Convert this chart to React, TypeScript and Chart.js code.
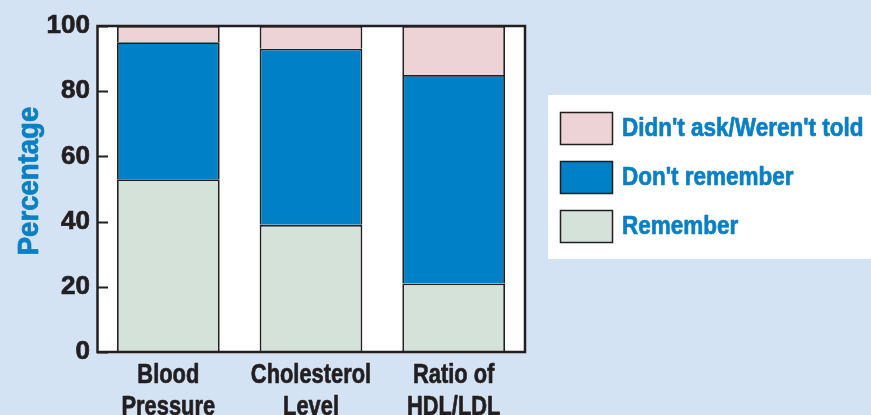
import React, { useEffect, useRef } from 'react';
import { Chart, registerables } from 'chart.js';

Chart.register(...registerables);

const categories = [['Blood', 'Pressure'], ['Cholesterol', 'Level'], ['Ratio of', 'HDL/LDL']];
const seriesLabels = ['Remember', "Don't remember", "Didn't ask/Weren't told"];
const remember = [53, 39, 21];
const dontRemember = [42, 54, 64];
const didntAsk = [5, 7, 15];
const yMin = 0;
const yMax = 100;
const yStep = 20;
const yTitle = 'Percentage';

const FONT = '"Liberation Sans", Arial, sans-serif';
const BLUE_TEXT = '#0a7fc4';
const INK = '#231f20';
const BG = '#d4e3f3';

function drawNarrow(ctx: CanvasRenderingContext2D, text: string, x: number, y: number, size: number, sx: number, align: CanvasTextAlign, color: string, rot = 0) {
  ctx.save();
  ctx.translate(x, y);
  if (rot) ctx.rotate(rot);
  ctx.scale(sx, 1);
  ctx.font = `bold ${size}px ${FONT}`;
  ctx.fillStyle = color;
  ctx.strokeStyle = color;
  ctx.lineWidth = 0.7;
  ctx.lineJoin = 'round';
  ctx.textAlign = align;
  ctx.textBaseline = 'alphabetic';
  ctx.fillText(text, 0, 0);
  ctx.strokeText(text, 0, 0);
  ctx.restore();
}

const plotPlugin = {
  id: 'plotDecor',
  beforeDatasetsDraw(chart: any) {
    const { ctx, chartArea: a } = chart;
    ctx.save();
    ctx.fillStyle = '#ffffff';
    ctx.fillRect(a.left, a.top, a.right - a.left, a.bottom - a.top);
    ctx.restore();
  },
  afterDatasetsDraw(chart: any) {
    const { ctx, chartArea: a } = chart;
    const y = chart.scales.y;
    ctx.save();
    ctx.strokeStyle = INK;
    ctx.lineWidth = 2.5;
    ctx.strokeRect(a.left + 0.5, a.top, a.right - a.left - 0.5, a.bottom - a.top);
    ctx.lineWidth = 2;
    y.ticks.forEach((t: any) => {
      const py = Math.round(y.getPixelForValue(t.value)) + 0.5;
      ctx.beginPath();
      ctx.moveTo(a.left, py);
      ctx.lineTo(a.left + 11, py);
      ctx.stroke();
    });
    ctx.restore();
  },
  afterDraw(chart: any) {
    const { ctx, chartArea: a } = chart;
    const x = chart.scales.x;
    (chart.data.labels as string[][]).forEach((lines, i) => {
      const px = x.getPixelForTick(i);
      lines.forEach((line, j) => {
        drawNarrow(ctx, line, px, a.bottom + 31 + j * 32, 27, 0.81, 'center', INK);
      });
    });
    drawNarrow(ctx, yTitle, 38, (a.top + a.bottom) / 2 - 8, 29, 0.95, 'center', BLUE_TEXT, -Math.PI / 2);
    ctx.save();
    ctx.fillStyle = '#ffffff';
    ctx.fillRect(548, 95, 323, 164);
    ctx.restore();
    const ds = chart.data.datasets.slice().reverse();
    ds.forEach((d: any, i: number) => {
      const top = 112 + i * 49;
      ctx.save();
      ctx.fillStyle = d.backgroundColor;
      ctx.fillRect(560, top, 53, 33);
      ctx.strokeStyle = INK;
      ctx.lineWidth = 1.5;
      ctx.strokeRect(560.5, top + 0.5, 52, 32);
      ctx.restore();
      drawNarrow(ctx, d.label, 622, top + 24, 26, 0.865, 'left', BLUE_TEXT);
    });
  },
};

export default function App() {
  const ref = useRef<HTMLCanvasElement | null>(null);
  useEffect(() => {
    if (!ref.current) return;
    const chart = new Chart(ref.current, {
      type: 'bar',
      data: {
        labels: categories as any,
        datasets: [
          { label: seriesLabels[0], data: remember, backgroundColor: '#d5e2da' },
          { label: seriesLabels[1], data: dontRemember, backgroundColor: '#0080c6' },
          { label: seriesLabels[2], data: didntAsk, backgroundColor: '#edd3d5' },
        ].map((d) => ({
          ...d,
          borderColor: INK,
          borderWidth: 1.8,
          barPercentage: 0.72,
          categoryPercentage: 1,
        })),
      },
      options: {
        responsive: false,
        animation: false,
        layout: { padding: { left: 0, right: 346, top: 26, bottom: 0 } },
        plugins: { legend: { display: false }, tooltip: { enabled: false } },
        scales: {
          x: {
            stacked: true,
            grid: { display: false, drawTicks: false },
            border: { display: false },
            ticks: { display: false },
            afterFit: (s: any) => { s.height = 63; },
          },
          y: {
            stacked: true,
            min: yMin,
            max: yMax,
            grid: { display: false, drawTicks: false },
            border: { display: false },
            ticks: {
              stepSize: yStep,
              color: INK,
              textStrokeColor: INK,
              textStrokeWidth: 0.7,
              font: { family: FONT, size: 26, weight: 'bold' },
              padding: 7,
            },
            title: { display: false },
            afterFit: (s: any) => { s.width = 97; },
          },
        },
      },
      plugins: [plotPlugin],
    } as any);
    return () => chart.destroy();
  }, []);
  return (
    <div style={{ position: 'fixed', left: 0, top: 0, width: 871, height: 415, background: BG }}>
      <canvas ref={ref} width={871} height={415} style={{ display: 'block' }} />
    </div>
  );
}
